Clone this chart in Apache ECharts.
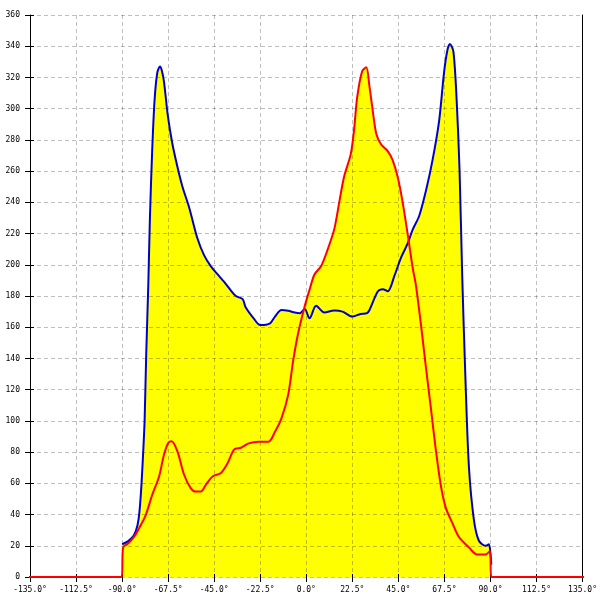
<!DOCTYPE html>
<html>
<head>
<meta charset="utf-8">
<script src="https://cdn.jsdelivr.net/npm/echarts@6/dist/echarts.min.js"></script>
<style>html,body{margin:0;padding:0;background:#fff}#c{width:600px;height:600px}</style>
</head>
<body>
<div id="c"></div>
<script>
// X axis (degrees) and Y axis settings
var xMin = -135, xMax = 135, xStep = 22.5;
var yMin = 0, yMax = 360, yStep = 20;

// Blue series: angle (deg) and value
var blueAngles = [-90,-87,-84.3,-82.5,-81.5,-80.5,-79.5,-79,-78.2,-77.2,-76.4,-75.3,-74.1,-72.8,-71.5,-70.5,-69.5,-67.6,-65.5,-63,-60.5,-57.3,-53.2,-49.9,-46.6,-43.4,-40.1,-36.8,-34.4,-31.1,-29.7,-25.7,-22.5,-17.7,-15.3,-12.1,-8.8,-5.6,-3.2,-0.8,1.6,4.8,8.8,13.7,17.7,22.5,26.5,29.7,30.9,35,37.4,39.8,43.1,46.3,49.5,52,55.2,58.4,61.7,64.9,67.3,69,70.2,71.9,73.5,74.9,76.2,77.8,79.5,81.9,84.3,87.6,89.2,90,90.4];
var blueValues = [21,23,26.5,33,42,60,85,100,143,187,230,273,306,323,327,324,317,295,278,263,250,237,217,206,199,194,189,183.5,180,178,173,165.7,161.4,162.5,166.8,171,170.5,169.4,169,171.6,165.7,173.7,169.4,170.7,170,166.8,168.5,169,171,183,184.4,183,193,204.6,213.5,222.5,231.4,247,267,292,323,337.7,341.5,336.5,305,260.5,193,126,70,36.8,23.4,20,21,15,8];

// Red series: angle (deg) and value
var redAngles = [-180,-90.3,-89.5,-87.5,-85.9,-83.5,-81.8,-78.5,-75.3,-72,-69.5,-67.4,-65.8,-63,-59.7,-56.4,-54,-51.5,-49.1,-45.8,-41.7,-38.4,-35.2,-31.9,-28.1,-23.3,-18.5,-15.3,-12.1,-8.8,-6.4,-4,-0.8,1.6,4,7.2,10.5,13.7,16.1,18.5,21.7,23.3,24.9,27.3,29.3,30.9,32.5,34.2,36.6,39.8,42.2,44.7,47.1,49.5,52,53.6,56,58.4,60.9,63.3,65.7,68.1,71.4,74.6,79.5,83.5,87.6,89.7,90.5,180];
var redValues = [0,0,19,21,23,27,31,39.5,52.5,64,78.5,86,87,80.6,65.5,56.8,54.7,54.7,59,64.4,66.6,73,81.7,82.8,85.6,86.7,86.7,93,101.8,117,138.6,156,173.3,184,193.8,199,210,223,240,256.6,270.7,285.8,307.5,324,326.5,314,298.5,284,277,272.8,267,256,240,220,198,186.7,162,135,108,81.5,59,44.6,34.5,25.6,18.9,14.4,14.4,16.6,0,0];

function pairs(xs, ys){ return xs.map(function(x,i){ return [x, ys[i]]; }); }
var blueData = pairs(blueAngles, blueValues);
var redData = pairs(redAngles, redValues);

var FONT = 'DejaVu Sans Mono';
var gridDash = {color:'rgba(0,0,0,0.25)', type:[4,3], width:1};

var chart = echarts.init(document.getElementById('c'), null, {renderer:'canvas'});
chart.setOption({
  animation:false,
  backgroundColor:'#ffffff',
  grid:{left:30, right:15, top:15, bottom:23, containLabel:false},
  xAxis:[
    {type:'value', min:xMin, max:xMax, interval:xStep, position:'bottom', z:3,
     axisLine:{show:false, onZero:false},
     axisTick:{show:true, inside:false, length:5, lineStyle:{color:'#000', width:1}},
     axisLabel:{margin:9, color:'#000', fontFamily:FONT, fontSize:8,
       formatter:function(v){ return v.toFixed(1) + '°'; }},
     splitLine:{show:false}},
    {type:'value', min:xMin, max:xMax, interval:xStep, position:'bottom', z:2,
     axisLine:{show:false, onZero:false},
     axisTick:{show:true, inside:true, length:3, lineStyle:{color:'#000', width:1}},
     axisLabel:{show:false},
     splitLine:{show:true, lineStyle:gridDash}}
  ],
  yAxis:[
    {type:'value', min:yMin, max:yMax, interval:yStep, position:'left', z:3,
     axisLine:{show:true, onZero:false, lineStyle:{color:'#000', width:1}},
     axisTick:{show:true, inside:false, length:5, lineStyle:{color:'#000', width:1}},
     axisLabel:{margin:10, color:'#000', fontFamily:FONT, fontSize:8},
     splitLine:{show:false}},
    {type:'value', min:yMin, max:yMax, interval:yStep, position:'left', offset:0, z:2,
     axisLine:{show:false, onZero:false},
     axisTick:{show:true, inside:true, length:4, lineStyle:{color:'#000', width:1}},
     axisLabel:{show:false},
     splitLine:{show:true, lineStyle:gridDash}},
    {type:'value', min:yMin, max:yMax, interval:yStep, position:'right', offset:0, z:3,
     axisLine:{show:true, onZero:false, lineStyle:{color:'#000', width:1}},
     axisTick:{show:false}, axisLabel:{show:false}, splitLine:{show:false}}
  ],
  series:[
    {type:'line', data:blueData, smooth:0.3, showSymbol:false, symbol:'none', z:1,
     lineStyle:{width:0}, areaStyle:{color:'#ffff00', opacity:1}},
    {type:'line', data:redData, smooth:0.3, showSymbol:false, symbol:'none', z:1, clip:false,
     lineStyle:{width:0}, areaStyle:{color:'#ffff00', opacity:1}},
    {type:'line', data:blueData, smooth:0.3, showSymbol:false, symbol:'none', z:4,
     lineStyle:{width:2, color:'#0000cc'}},
    {type:'line', data:redData, smooth:0.3, showSymbol:false, symbol:'none', z:5, clip:false,
     lineStyle:{width:2, color:'#ff0000'}}
  ]
});
</script>
</body>
</html>
